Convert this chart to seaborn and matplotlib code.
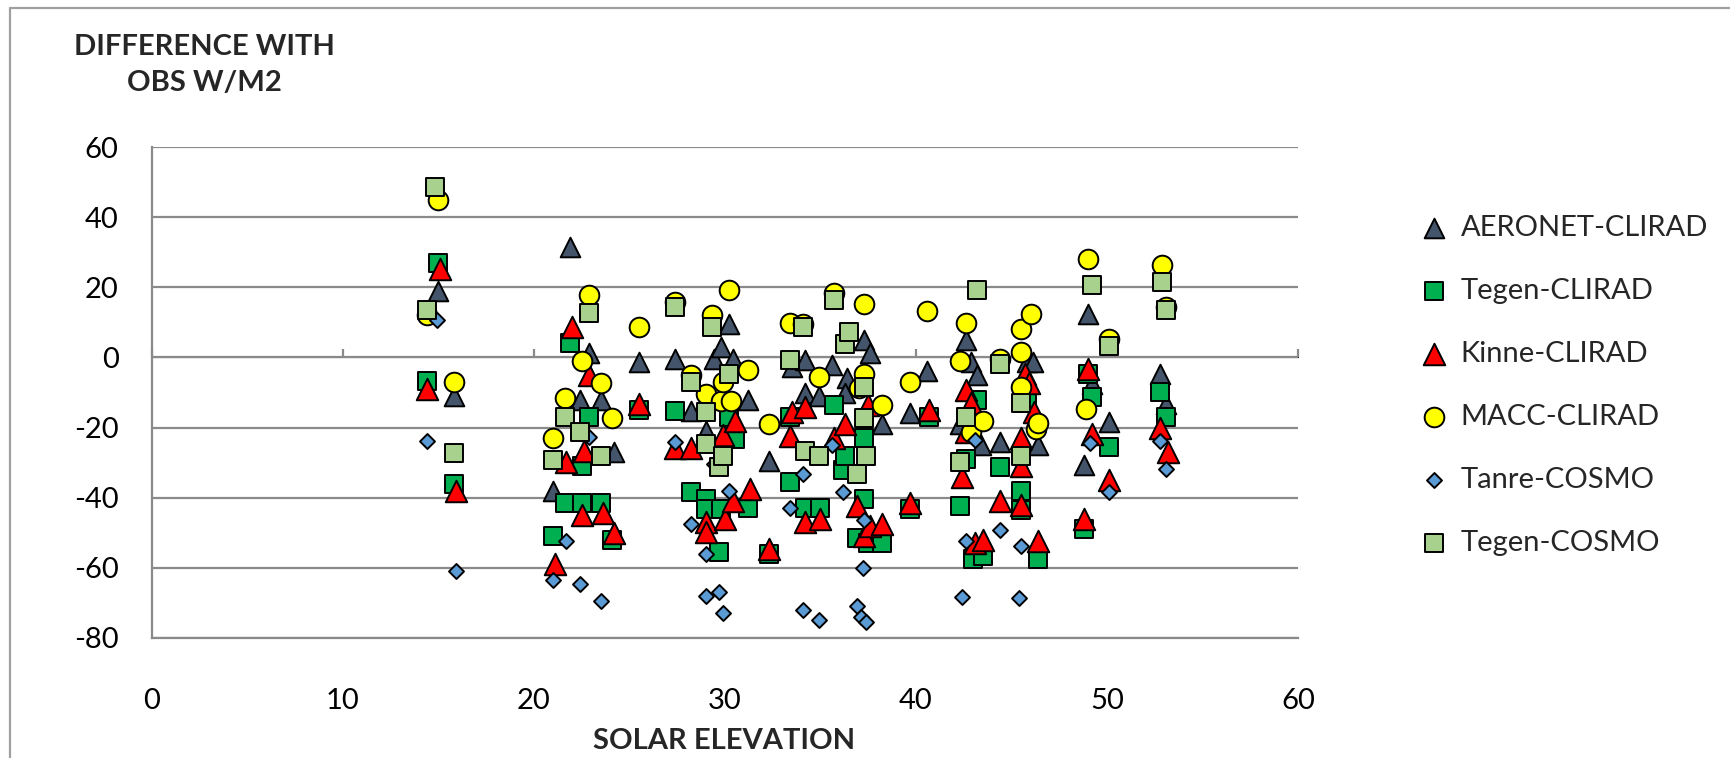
import numpy as np
import pandas as pd
import matplotlib
matplotlib.use("Agg")
import matplotlib.pyplot as plt
from matplotlib.lines import Line2D
import seaborn as sns

# ---------------- data ----------------
aeronet_x = [14.4, 15.0, 15.8, 21.0, 21.9, 22.4, 22.9, 23.5, 24.2, 25.5, 27.4, 28.2, 29.0, 29.4, 29.8,
             30.2, 30.4, 31.2, 32.3, 33.5, 34.2, 34.2, 34.9, 35.6, 36.4, 36.3, 37.3, 37.6, 38.2, 39.7,
             40.6, 42.3, 42.6, 42.9, 43.2, 43.4, 44.4, 45.8, 46.1, 46.4, 48.8, 49.0, 49.2, 50.1, 52.8, 53.1]
aeronet_y = [-9, 19, -10.9, -38.2, 31.5, -12.1, 1.2, -12.1, -27, -1.3, -0.4, -15.3, -20.9, -0.4, 3,
             9.6, -0.4, -12, -29.4, -2.8, -0.7, -10, -10.9, -2.3, -6, -10, 4.9, 1.2, -19, -15.9,
             -3.9, -19, 4.9, -1.4, -5, -25, -24, -1.4, -1.4, -25, -30.8, 12.5, -7.5, -18.5, -4.6, -13.2]

tegen_clirad_x = [14.4, 15.0, 15.8, 21.0, 21.6, 21.9, 22.5, 22.5, 22.9, 23.5, 24.1, 25.5, 27.4, 28.2, 29.0,
                  29.0, 29.7, 29.8, 30.2, 30.5, 31.2, 32.3, 33.4, 33.4, 34.2, 35.0, 35.7, 36.2, 36.3, 36.9,
                  37.3, 37.3, 37.5, 38.2, 39.7, 40.7, 42.3, 42.6, 43.2, 43.0, 43.5, 44.4, 45.5, 45.5, 45.8,
                  46.4, 48.8, 49.0, 49.2, 50.1, 52.8, 53.1]
tegen_clirad_y = [-6.6, 26.8, -36.1, -50.9, -41.6, 4, -30.9, -41.6, -16.9, -41.6, -52, -14.9, -15.3, -38.5, -40.4,
                  -43.2, -55.6, -43.2, -17, -23.2, -42.8, -56.1, -17, -35.6, -42.8, -42.8, -13.7, -32, -28, -51.6,
                  -23, -40.4, -53, -53, -43.2, -17, -42.3, -29, -12, -57.6, -56.7, -31.2, -38, -43.5, -13,
                  -57.6, -49, -4.6, -11.3, -25.5, -9.9, -17]

kinne_x = [14.4, 15.1, 15.9, 21.1, 21.7, 22.0, 22.5, 22.6, 22.9, 23.6, 24.2, 25.5, 27.4, 28.2, 29.0,
           29.0, 29.9, 30.0, 30.4, 30.5, 31.3, 32.3, 33.4, 33.5, 34.2, 34.2, 35.0, 35.7, 36.3, 36.9,
           37.3, 37.5, 37.6, 38.2, 39.7, 40.7, 42.4, 42.6, 42.6, 42.9, 43.1, 43.5, 44.4, 45.5, 45.5,
           45.5, 45.7, 45.9, 46.2, 46.4, 48.8, 49.0, 49.2, 50.1, 52.8, 53.2]
kinne_y = [-8.9, 25.3, -38, -58.9, -29.9, 8.7, -44.9, -26.6, -5.1, -44.3, -50, -13.2, -25.8, -25.8, -47,
           -49.9, -22, -46.1, -41, -18, -37.5, -54.5, -22.3, -15.7, -14.2, -47, -46, -23, -19, -42.4,
           -51, -13.5, -48, -47.6, -41.4, -15, -34, -9.2, -21.3, -13, -52.8, -52, -41, -23, -31,
           -42, -4.7, -7.4, -15.7, -52.3, -46, -3.2, -21.8, -35, -20, -27]

macc_x = [14.4, 15.0, 15.8, 21.0, 21.6, 22.5, 22.9, 23.5, 24.1, 25.5, 27.4, 28.2, 29.0, 29.3, 29.8,
          29.9, 30.2, 30.3, 31.2, 32.3, 33.4, 34.1, 34.9, 35.7, 37.0, 37.3, 37.3, 38.2, 39.7, 40.6,
          42.3, 42.6, 42.9, 43.5, 44.4, 45.5, 45.5, 45.5, 46.0, 46.3, 46.4, 48.9, 49.0, 50.1, 52.9, 53.1]
macc_y = [12, 44.9, -7, -22.9, -11.5, -1.1, 17.7, -7.3, -17.3, 8.7, 15.8, -5, -10.4, 12, -12.3,
          -7, 19.1, -12.3, -3.7, -18.9, 9.8, 9.6, -5.6, 18.5, -8.6, 15.3, -4.7, -13.5, -7, 13.2,
          -1, 9.8, -21.3, -18.2, -0.4, 8.2, 1.5, -8.3, 12.3, -20.5, -18.8, -14.7, 28.2, 5.3, 26.3, 14.5]

tanre_x = [14.4, 14.9, 15.9, 21.0, 21.7, 22.4, 22.9, 23.5, 27.4, 28.2, 29.0, 29.0, 29.4, 29.7, 29.9,
           30.2, 33.4, 34.1, 34.1, 34.9, 35.6, 36.2, 36.9, 37.1, 37.2, 37.3, 37.4, 42.4, 42.6, 43.1,
           44.4, 45.4, 45.5, 49.1, 50.1, 52.8, 53.1]
tanre_y = [-23.9, 10.6, -60.9, -63.5, -52.3, -64.7, -22.8, -69.4, -24.2, -47.5, -56.1, -68, -30.5, -67, -73,
           -38, -42.8, -33.2, -72.1, -74.9, -25, -38.5, -70.9, -74, -60.1, -46.3, -75.4, -68.4, -52.3, -23.6,
           -49.2, -68.6, -53.9, -24.4, -38.5, -23.7, -31.8]

tegen_cosmo_x = [14.4, 14.8, 15.8, 21.0, 21.6, 22.4, 22.9, 23.5, 27.4, 28.2, 29.0, 29.0, 29.3, 29.7, 29.9,
                 30.2, 33.4, 34.1, 34.2, 34.9, 35.7, 36.3, 36.5, 36.9, 37.3, 37.3, 37.4, 42.3, 42.6, 43.2,
                 44.4, 45.5, 45.5, 49.2, 50.1, 52.9, 53.1]
tegen_cosmo_y = [13.4, 48.7, -27.3, -29.2, -16.9, -21.3, 12.7, -28, 14.4, -7, -15.6, -24.7, 8.7, -31.3, -28,
                 -4.7, -0.7, 8.7, -26.6, -28, 16.3, 3.9, 7.2, -33.2, -8.4, -17.2, -28, -29.8, -16.9, 19.1,
                 -1.8, -13.1, -28, 20.6, 3.4, 21.5, 13.4]

series_names = ["AERONET-CLIRAD", "Tegen-CLIRAD", "Kinne-CLIRAD", "MACC-CLIRAD", "Tanre-COSMO", "Tegen-COSMO"]
x_ticks = [0, 10, 20, 30, 40, 50, 60]
y_ticks = [-80, -60, -40, -20, 0, 20, 40, 60]
x_label = "SOLAR ELEVATION"
y_label = "DIFFERENCE WITH\nOBS W/M2"

# ---------------- build table ----------------
series_data = {
    "AERONET-CLIRAD": (aeronet_x, aeronet_y),
    "Tegen-CLIRAD": (tegen_clirad_x, tegen_clirad_y),
    "Kinne-CLIRAD": (kinne_x, kinne_y),
    "MACC-CLIRAD": (macc_x, macc_y),
    "Tanre-COSMO": (tanre_x, tanre_y),
    "Tegen-COSMO": (tegen_cosmo_x, tegen_cosmo_y),
}
frames = []
for name in series_names:
    xs, ys = series_data[name]
    frames.append(pd.DataFrame({"elev": xs, "diff": ys, "series": name}))
df = pd.concat(frames, ignore_index=True)

styles = {
    "AERONET-CLIRAD": dict(color="#44546A", marker="^", s=200),
    "Tegen-CLIRAD": dict(color="#00B050", marker="s", s=185),
    "Kinne-CLIRAD": dict(color="#FF0000", marker="^", s=240),
    "MACC-CLIRAD": dict(color="#FFFF00", marker="o", s=200),
    "Tanre-COSMO": dict(color="#5B9BD5", marker="D", s=58),
    "Tegen-COSMO": dict(color="#A9D18E", marker="s", s=185),
}

# ---------------- plot ----------------
sns.set_style("white")
plt.rcParams["font.family"] = ["Lato", "DejaVu Sans"]
plt.rcParams["axes.unicode_minus"] = False

W, H = 1731, 758
fig = plt.figure(figsize=(W / 100, H / 100), dpi=100)
ax = fig.add_axes([152 / W, 1 - 638 / H, (1298 - 152) / W, (638 - 147) / H])

for i, name in enumerate(series_names):
    st = styles[name]
    sns.scatterplot(data=df[df["series"] == name], x="elev", y="diff", ax=ax,
                    color=st["color"], marker=st["marker"], s=st["s"],
                    edgecolor="black", linewidth=1.4, label=name, zorder=3 + i)

xmin, xmax = 0, 60
ymin, ymax = -80, 60
ax.set_xlim(xmin, xmax)
ax.set_ylim(ymin, ymax)
ax.set_xticks(x_ticks)
ax.set_yticks(y_ticks)
grid_c = "#8A8A8A"
ax.yaxis.grid(True, color=grid_c, linewidth=1.6, zorder=0)
ax.xaxis.grid(False)
ax.set_axisbelow(True)
for sp in ["top", "right"]:
    ax.spines[sp].set_visible(False)
ax.spines["left"].set_color(grid_c)
ax.spines["left"].set_linewidth(1.6)
ax.spines["bottom"].set_color(grid_c)
ax.spines["bottom"].set_linewidth(1.6)
ax.tick_params(axis="y", direction="out", length=7, width=1.6, color=grid_c,
               labelsize=21, pad=17, labelcolor="black")
ax.tick_params(axis="x", length=0, labelsize=21, pad=36, labelcolor="black")
ax.set_xlabel("")
ax.set_ylabel("")

# x-axis crossing at y=0 with tick marks
sec = ax.secondary_xaxis((0 - ymin) / (ymax - ymin))
sec.set_xticks(x_ticks)
sec.tick_params(direction="out", length=6, width=1.6, color=grid_c, labelbottom=False, labeltop=False)
sec.spines["bottom"].set_color(grid_c)
sec.spines["bottom"].set_linewidth(1.6)

fig.text(204 / W, 1 - 65 / H, y_label, ha="center", va="center", fontsize=21,
         fontweight="bold", linespacing=1.45)
fig.text(724 / W, 1 - 741 / H, x_label, ha="center", va="center", fontsize=21, fontweight="bold")

leg = ax.legend(loc="upper left", bbox_to_anchor=(1405 / W, 1 - 203 / H), bbox_transform=fig.transFigure,
                frameon=False, fontsize=21, labelspacing=1.27, handletextpad=0.3,
                handlelength=1.2, borderaxespad=0)

# outer frame of the chart
fig.add_artist(Line2D([10 / W, 10 / W], [0, 1 - 8 / H], transform=fig.transFigure, color="#A0A0A0", linewidth=1.6))
fig.add_artist(Line2D([10 / W, 1], [1 - 8 / H, 1 - 8 / H], transform=fig.transFigure, color="#A0A0A0", linewidth=1.6))

fig.savefig("out.png", dpi=100)
